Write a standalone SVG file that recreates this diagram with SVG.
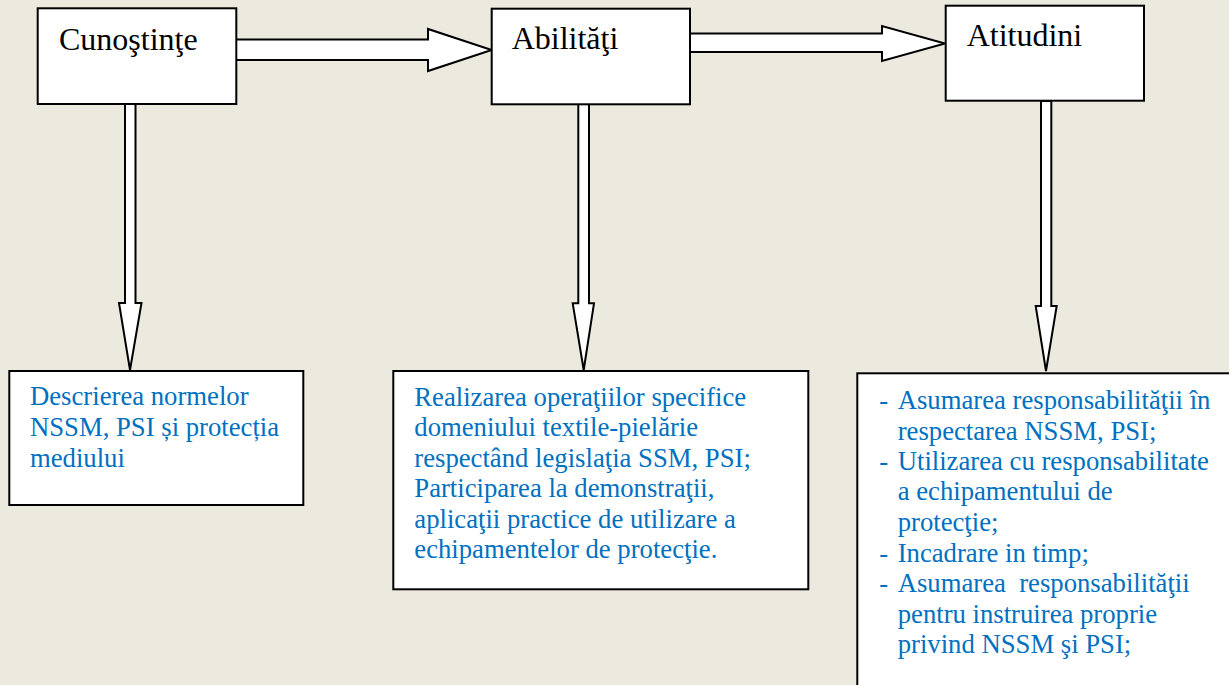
<svg xmlns="http://www.w3.org/2000/svg" width="1229" height="685" viewBox="0 0 1229 685">
<style>
.bg{fill:#ECE9DF}
.box{fill:#FFFFFF;stroke:#000000;stroke-width:2}
.arr{fill:#FFFFFF;stroke:#000000;stroke-width:2;stroke-linejoin:miter}
.title{font-family:"Liberation Serif","Times New Roman",serif;font-size:32px;fill:#000000}
.body{font-family:"Liberation Serif","Times New Roman",serif;font-size:26.7px;fill:#0070C0}
</style>
<rect class="bg" x="0" y="0" width="1229" height="685"/>
<g id="connectors">
<polygon class="arr" points="236,39.5 428,39.5 428,29 491.7,50 428,71 428,60 236,60"/>
<polygon class="arr" points="690,33.5 882,33.5 882,26 945,43.5 882,61 882,52 690,52"/>
<polygon class="arr" points="125,104 135.5,104 135.5,303 141.5,303 130,370 119,303 125,303"/>
<polygon class="arr" points="578.3,104 589,104 589,303.3 594,303.3 583.7,370 572.7,303.3 578.3,303.3"/>
<polygon class="arr" points="1041,101 1051.3,101 1051.3,306 1056.7,306 1046,371 1035.7,306 1041,306"/>
</g>
<g id="cunostinte">
<rect class="box" x="37.7" y="8.3" width="198.6" height="95.7"/>
<text class="title" x="59" y="50">Cunoştinţe</text>
</g>
<g id="abilitati">
<rect class="box" x="491.7" y="8.7" width="198.3" height="95.6"/>
<text class="title" x="511.7" y="49">Abilităţi</text>
</g>
<g id="atitudini">
<rect class="box" x="945.7" y="5.7" width="198.3" height="95"/>
<text class="title" x="966.7" y="46">Atitudini</text>
</g>
<g id="descriere">
<rect class="box" x="9.3" y="371" width="294" height="134"/>
<text class="body" x="30" y="405">Descrierea normelor</text>
<text class="body" x="30" y="436">NSSM, PSI și protecția</text>
<text class="body" x="30" y="467">mediului</text>
</g>
<g id="realizare">
<rect class="box" x="393.3" y="371" width="415" height="218.3"/>
<text class="body" x="414.3" y="405.5">Realizarea operaţiilor specifice</text>
<text class="body" x="414.3" y="436">domeniului textile-pielărie</text>
<text class="body" x="414.3" y="466.5">respectând legislaţia SSM, PSI;</text>
<text class="body" x="414.3" y="497">Participarea la demonstraţii,</text>
<text class="body" x="414.3" y="527.5">aplicaţii practice de utilizare a</text>
<text class="body" x="414.3" y="558">echipamentelor de protecţie.</text>
</g>
<g id="asumare">
<rect class="box" x="857.3" y="373.3" width="400" height="400"/>
<text class="body" x="879.3" y="409">-</text>
<text class="body" x="897.7" y="409">Asumarea responsabilităţii în</text>
<text class="body" x="897.7" y="439.5">respectarea NSSM, PSI;</text>
<text class="body" x="879.3" y="470">-</text>
<text class="body" x="897.7" y="470">Utilizarea cu responsabilitate</text>
<text class="body" x="897.7" y="500">a echipamentului de</text>
<text class="body" x="897.7" y="530.5">protecţie;</text>
<text class="body" x="879.3" y="561.5">-</text>
<text class="body" x="897.7" y="561.5">Incadrare in timp;</text>
<text class="body" x="879.3" y="592">-</text>
<text class="body" x="897.7" y="592" xml:space="preserve">Asumarea  responsabilităţii</text>
<text class="body" x="897.7" y="622.5">pentru instruirea proprie</text>
<text class="body" x="897.7" y="653">privind NSSM şi PSI;</text>
</g>
</svg>
